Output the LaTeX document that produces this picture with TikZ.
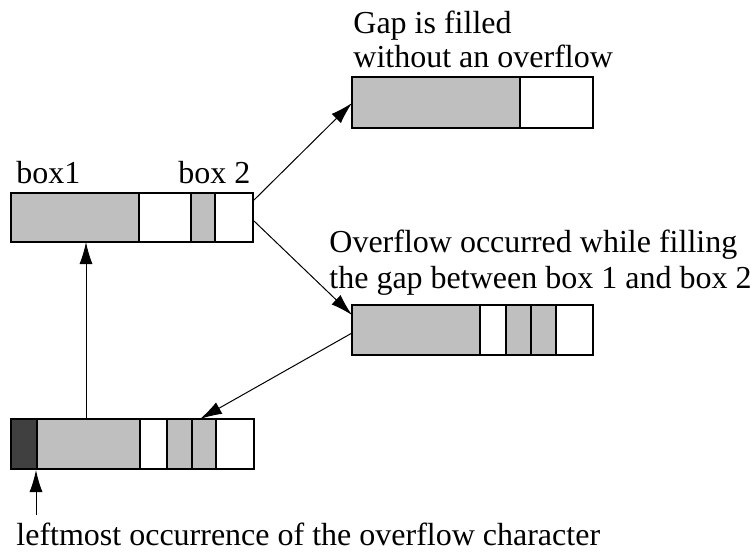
\documentclass[tikz,border=0pt]{standalone}
\usepackage{fontspec}
\setmainfont{Liberation Serif}
\usetikzlibrary{arrows.meta}
\definecolor{boxgray}{gray}{0.75}
\definecolor{boxdark}{gray}{0.25}
\begin{document}
\begin{tikzpicture}[x=0.5pt,y=-0.5pt,
  >={Latex[length=11pt,width=6.5pt]},
  cell/.style={draw,line width=0.7pt},
  link/.style={->,line width=0.5pt},
  lbl/.style={anchor=base west,inner sep=0pt,font=\fontsize{16}{17.5}\selectfont}]
\useasboundingbox (0,0) rectangle (752,552);

% box 1 and box 2 before filling
\filldraw[cell,fill=boxgray] (11,193) rectangle (139,242);
\draw[cell] (139,193) rectangle (191,242);
\filldraw[cell,fill=boxgray] (191,193) rectangle (215,242);
\draw[cell] (215,193) rectangle (253,242);
\node[lbl] (lbox1) at (16,183) {box1};
\node[lbl] (lbox2) at (178,183) {box 2};

% gap filled
\filldraw[cell,fill=boxgray] (352,77) rectangle (520,128);
\draw[cell] (520,77) rectangle (593,128);
\node[lbl] (gap1) at (353,33) {Gap is filled};
\node[lbl] (gap2) at (353,67) {without an overflow};

% overflow
\filldraw[cell,fill=boxgray] (352,305) rectangle (480,355);
\draw[cell] (480,305) rectangle (506,355);
\filldraw[cell,fill=boxgray] (506,305) rectangle (531,355);
\filldraw[cell,fill=boxgray] (531,305) rectangle (556,355);
\draw[cell] (556,305) rectangle (593,355);
\node[lbl] (ovf1) at (329,252) {Overflow occurred while filling};
\node[lbl] (ovf2) at (329,288) {the gap between box 1 and box 2};

% shifted result
\filldraw[cell,fill=boxdark] (11,419) rectangle (37,469);
\filldraw[cell,fill=boxgray] (37,419) rectangle (140,469);
\draw[cell] (140,419) rectangle (167,469);
\filldraw[cell,fill=boxgray] (167,419) rectangle (192,469);
\filldraw[cell,fill=boxgray] (192,419) rectangle (216,469);
\draw[cell] (216,419) rectangle (254,469);
\node[lbl] (left) at (16,545) {leftmost occurrence of the overflow character};

\coordinate (A1) at (253,201);
\coordinate (A2) at (254,221);
\coordinate (Ab) at (86,242);
\coordinate (B) at (352,103);
\coordinate (C) at (352,315);
\coordinate (C2) at (352,333);
\coordinate (D) at (200,419);
\coordinate (Dt) at (86,419);
\coordinate (Dd) at (36,470);
\coordinate (T) at (36,515);

\draw[link] (A1) -- (B);
\draw[link] (A2) -- (C);
\draw[link] (C2) -- (D);
\draw[link] (Dt) -- (Ab);
\draw[link] (T) -- (Dd);
\end{tikzpicture}
\end{document}
